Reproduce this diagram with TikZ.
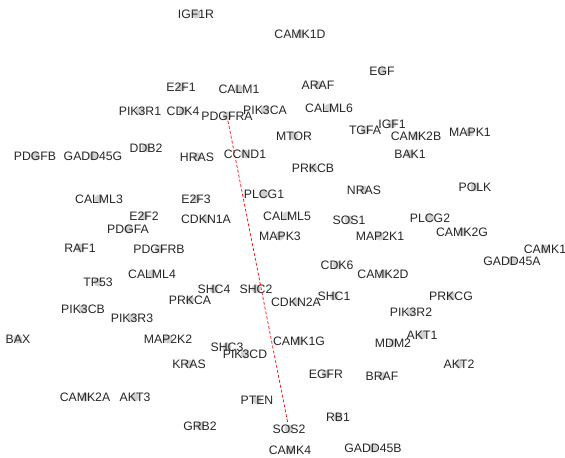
\documentclass[tikz,border=0pt]{standalone}
\usepackage{fontspec}
\setmainfont{Liberation Sans}
\begin{document}
\begin{tikzpicture}[x=1bp,y=-1bp,
  gene/.style={inner sep=0pt,text=black!85,font=\fontsize{12.3}{14}\selectfont},
  genedot/.style={fill=black!18},
  link/.style={red,densely dashed,line width=0.7bp,shorten <=5bp,shorten >=6bp}]
\useasboundingbox (0,0) rectangle (565,458);
\foreach \n/\x/\y in {
IGF1R/196/14, CAMK1D/300/34, E2F1/181/87, CALM1/239/89, ARAF/318/85, EGF/382/71,
PIK3R1/140/111, CDK4/183/111, PDGFRA/227/116, PIK3CA/265/110, CALML6/329/108,
MTOR/294/136, TGFA/365/130, IGF1/392/124, CAMK2B/416/136, MAPK1/470/132, BAK1/410/154,
PDGFB/35/156, GADD45G/93/156, DDB2/146/148, HRAS/197/157, CCND1/245/154, PRKCB/313/168,
NRAS/364/190, POLK/475/187, CALML3/99/199, E2F3/196/199, PLCG1/264/194, CALML5/287/216,
SOS1/349/220, PLCG2/430/218, E2F2/144/216, CDKN1A/206/219, PDGFA/128/229, MAP2K1/380/236,
CAMK2G/462/232, MAPK3/280/236, RAF1/80/248, PDGFRB/159/249, CAMK1/545/249, GADD45A/512/261,
CDK6/337/265, CAMK2D/383/274, TP53/98/282, CALML4/152/274, SHC4/214/289, SHC2/256/289,
PRKCA/190/300, CDKN2A/296/302, SHC1/334/296, PRKCG/451/296, PIK3CB/83/309, PIK3R3/132/318,
PIK3R2/411/312, BAX/18/339, MAP2K2/168/339, CAMK1G/299/341, AKT1/422/335, MDM2/393/343,
SHC3/227/347, PIK3CD/245/354, KRAS/189/364, AKT2/459/364, EGFR/326/374, BRAF/382/376,
CAMK2A/85/397, AKT3/135/397, PTEN/257/400, RB1/338/417, GRB2/200/426, SOS2/289/429,
CAMK4/290/450, GADD45B/373/448}
{
  \fill[genedot] (\x,\y) circle (4.5);
  \node[gene] (\n) at (\x,\y) {\n};
}
\draw[link] (PDGFRA.center) -- (SOS2.center);
\end{tikzpicture}
\end{document}
